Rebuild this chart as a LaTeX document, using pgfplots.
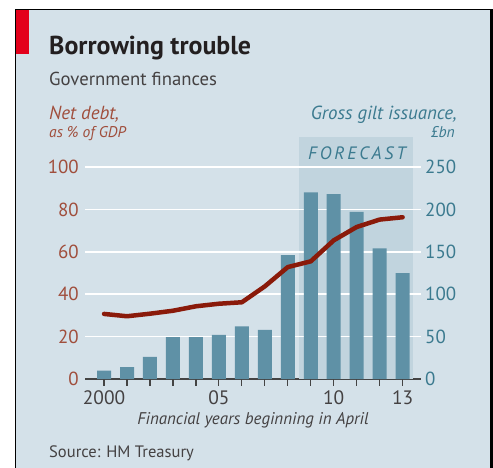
\documentclass[border=0pt]{standalone}
\usepackage{pgfplots}
\pgfplotsset{compat=1.18}
\usepackage{fontspec}
\setmainfont{PT Sans}
\definecolor{panelbg}{HTML}{D4E1E9}
\definecolor{shadebg}{HTML}{C1D4DE}
\definecolor{barcol}{HTML}{5F91A6}
\definecolor{linecol}{HTML}{8A1A0A}
\definecolor{leftlab}{HTML}{A04E3C}
\definecolor{rightlab}{HTML}{3B7A8F}
\definecolor{darktext}{HTML}{231F20}
\definecolor{ecored}{HTML}{E3001B}
\definecolor{axisgray}{HTML}{444444}
\pgfplotstableread{
year gilt debt
2000 10 30.7
2001 14 29.6
2002 26 30.8
2003 49.5 32.2
2004 49.5 34.3
2005 52 35.5
2006 62 36.2
2007 58 43.7
2008 146 52.8
2009 220 55.5
2010 218 65.4
2011 197 71.7
2012 154 75.2
2013 125 76.3
}\datatable
\pgfplotstableread{
year tick
2000 -8.25
2001 -8.25
2002 -8.25
2003 -8.25
2004 -8.25
2005 -8.25
2006 -8.25
2007 -8.25
2008 -8.25
2009 -8.25
2010 -8.25
2011 -8.25
2012 -8.25
2013 -8.25
}\ticktable
\begin{document}
\begin{tikzpicture}
\useasboundingbox (0,0) rectangle (493bp,-468bp);
\fill[white] (0,0) rectangle (493bp,-468bp);
\fill[panelbg] (15.5bp,-9.5bp) rectangle (490bp,-468bp);
\draw[black, line width=1.6bp] (15.5bp,-468bp) -- (15.5bp,-9.5bp) -- (490bp,-9.5bp);
\draw[black, line width=3bp] (491.5bp,-9bp) -- (491.5bp,-468bp);
\fill[ecored] (16.3bp,-10.3bp) rectangle (29bp,-54bp);
% titles
\node[anchor=base west, inner sep=0pt, text=darktext, font=\bfseries\fontsize{26}{30}\selectfont] at (49bp,-54bp) {Borrowing trouble};
\node[anchor=base west, inner sep=0pt, text=darktext!85, font=\fontsize{18.8}{20}\selectfont] at (49bp,-85bp) {Government finances};
\node[anchor=base west, inner sep=0pt, text=leftlab, font=\itshape\fontsize{19}{20}\selectfont] at (49bp,-119bp) {Net debt,};
\node[anchor=base west, inner sep=0pt, text=leftlab, font=\itshape\fontsize{15.6}{18}\selectfont] at (49bp,-137bp) {as \% of GDP};
\node[anchor=base east, inner sep=0pt, text=rightlab, font=\itshape\fontsize{19}{20}\selectfont] at (457bp,-119bp) {Gross gilt issuance,};
\node[anchor=base east, inner sep=0pt, text=rightlab, font=\itshape\fontsize{15.6}{18}\selectfont] at (455bp,-137bp) {£bn};
% axis 1: bars, shade, grid, x axis, right labels
\begin{axis}[
  at={(85bp,-379bp)}, anchor=south west,
  width=336bp, height=242bp, scale only axis,
  clip=false,
  xmin=1999.17, xmax=2013.8, ymin=0, ymax=285.38,
  axis x line*=bottom, axis y line*=right,
  x axis line style={draw=axisgray, line width=1.3bp, -},
  y axis line style={draw=none},
  xtick={2000,2001,...,2013},
  xticklabels={2000,,,,,05,,,,,10,,,13},
  major tick length=0pt,
  xtick style={draw=none},
  ytick={0,50,...,250},
  ytick style={draw=none},
  /pgf/number format/assume math mode=true,
  yticklabel style={text=rightlab, font=\fontsize{19}{20}\selectfont, anchor=west, inner sep=0pt, xshift=4bp},
  xticklabel style={text=darktext!85, font=\fontsize{19.5}{20}\selectfont, inner sep=0pt, anchor=north, yshift=-11bp},
]
\addplot[fill=shadebg, draw=none] coordinates {(2008.5,285.38) (2013.45,285.38)} \closedcycle;
\addplot[white, line width=1.6bp] coordinates {(1999.17,50) (2013.8,50)};
\addplot[white, line width=1.6bp] coordinates {(1999.17,100) (2013.8,100)};
\addplot[white, line width=1.6bp] coordinates {(1999.17,150) (2013.8,150)};
\addplot[white, line width=1.6bp] coordinates {(1999.17,200) (2013.8,200)};
\addplot[white, line width=1.6bp] coordinates {(1999.17,250) (2013.8,250)};
\addplot[ybar, bar width=14bp, fill=barcol, draw=none] table[x=year, y=gilt] {\datatable};
\addplot[ycomb, draw=axisgray, line width=1.2bp, mark=none] table[x=year, y=tick] {\ticktable};
\end{axis}
% axis 2: line, left labels
\begin{axis}[
  at={(85bp,-379bp)}, anchor=south west,
  width=336bp, height=242bp, scale only axis,
  xmin=1999.17, xmax=2013.8, ymin=0, ymax=114.15,
  hide x axis,
  axis y line*=left,
  y axis line style={draw=none},
  ytick={0,20,...,100},
  major tick length=0pt,
  ytick style={draw=none},
  /pgf/number format/assume math mode=true,
  yticklabel style={text=leftlab, font=\fontsize{19}{20}\selectfont, anchor=east, inner sep=0pt, xshift=-6bp},
]
\addplot[linecol, line width=4.5bp, line join=round, line cap=round] table[x=year, y=debt] {\datatable};
\end{axis}
% FORECAST label
\node[anchor=base, inner sep=0pt, text=rightlab, font=\itshape\fontsize{18}{20}\selectfont\addfontfeature{LetterSpace=16}] at (357bp,-159bp) {FORECAST};
\node[anchor=base, inner sep=0pt, text=darktext!85, font=\itshape\fontsize{17}{18}\selectfont] at (253bp,-424bp) {Financial years beginning in April};
\node[anchor=base west, inner sep=0pt, text=darktext!85, font=\fontsize{16.6}{18}\selectfont] at (49bp,-457bp) {Source: HM Treasury};
\end{tikzpicture}
\end{document}
